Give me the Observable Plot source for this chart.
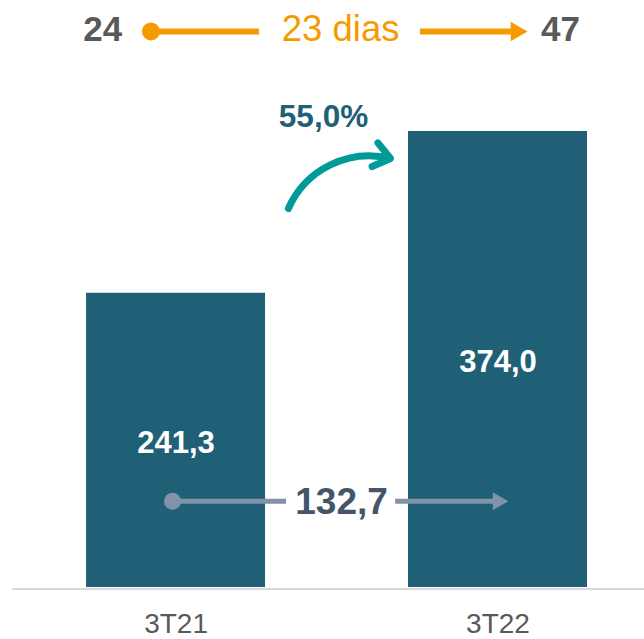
<!DOCTYPE html>
<html><head><meta charset="utf-8">
<script src="https://cdn.jsdelivr.net/npm/d3@7"></script>
<script src="https://cdn.jsdelivr.net/npm/@observablehq/plot@0.6"></script>
<style>body{margin:0;background:#fff} svg{display:block}</style>
</head><body><div id="chart"></div>
<script>
// ---- data ----
const categories = ["3T21", "3T22"];
const values = [241.3, 374.0];
const valueLabels = ["241,3", "374,0"];
const growthLabel = "55,0%";
const differenceLabel = "132,7";
const daysFrom = "24";
const daysTo = "47";
const daysLabel = "23 dias";

const bars = categories.map((c, i) => ({i, category: c, value: values[i], label: valueLabels[i]}));

// ---- annotation layout (x in bar-index units, y in value units) ----
const ann = {
  topTextY: 457.6, topLineY: 456,
  daysFromX: -0.228, daysToX: 1.194, daysLabelX: 0.511,
  daysDotX: -0.078, daysLine1: [-0.078, 0.259], daysLine2: [0.759, 1.05], daysHeadX: 1.0568,
  growthX: 0.458, growthY: 386.3,
  curve: {x1: 0.349, y1: 310.8, x2: 0.666, y2: 351.8},
  diffY: 70.8, diffLabelY: 70.3, diffLabelX: 0.514,
  diffDotX: -0.011, diffLine1: [-0.011, 0.343], diffLine2: [0.682, 0.995], diffHeadX: 1.0
};

const font = '"Liberation Sans", Arial, Helvetica, sans-serif';
const barColor = "#1f6076";
const orange = "#f59b00";
const grayText = "#595959";
const arrowGray = "#8192a9";
const diffColor = "#44546a";
const teal = "#009b98";
const halfBar = 0.278;

const topTexts = [
  {x: ann.daysFromX, text: daysFrom},
  {x: ann.daysToX, text: daysTo}
];

const chart = Plot.plot({
  width: 644, height: 639,
  marginLeft: 12, marginRight: 0, marginTop: 0, marginBottom: 52,
  style: {fontFamily: font, background: "#fff", overflow: "visible"},
  x: {type: "linear", domain: [-0.508, 1.455], axis: null},
  y: {domain: [0, 481.4], axis: null},
  marks: [
    Plot.rectY(bars, {x1: d => d.i - halfBar, x2: d => d.i + halfBar, y1: () => 0, y2: "value", fill: barColor}),
    Plot.ruleY([0], {stroke: "#d9d9d9", strokeWidth: 2, dy: 1.5}),
    Plot.axisX({ticks: [0, 1], tickFormat: i => categories[i], tickSize: 0, tickPadding: 26, fontSize: 28, color: grayText, fontFamily: font}),
    Plot.text(bars, {x: "i", y: d => d.value / 2, text: "label", fill: "white", fontWeight: "bold", fontSize: 31, dy: 2.5, fontFamily: font}),

    // top: days
    Plot.text(topTexts, {x: "x", y: () => ann.topTextY, text: "text", fill: grayText, fontWeight: "bold", fontSize: 35, fontFamily: font}),
    Plot.text([daysLabel], {x: () => ann.daysLabelX, y: () => ann.topTextY, text: d => d, fill: orange, fontSize: 36.5, fontFamily: font}),
    Plot.ruleY([ann.daysLine1, ann.daysLine2], {y: () => ann.topLineY, x1: d => d[0], x2: d => d[1], stroke: orange, strokeWidth: 6}),
    Plot.dot([ann.daysDotX], {x: d => d, y: () => ann.topLineY, r: 9, fill: orange}),
    Plot.dot([ann.daysHeadX], {x: d => d, y: () => ann.topLineY, r: 7.2, symbol: "triangle", rotate: 90, fill: orange}),

    // growth
    Plot.text([growthLabel], {x: () => ann.growthX, y: () => ann.growthY, text: d => d, fill: barColor, fontWeight: "bold", fontSize: 31.5, fontFamily: font}),
    Plot.arrow([ann.curve], {x1: "x1", y1: "y1", x2: "x2", y2: "y2", bend: 40, stroke: teal, strokeWidth: 7, headLength: 4.3, headAngle: 75}),

    // difference
    Plot.ruleY([ann.diffLine1, ann.diffLine2], {y: () => ann.diffY, x1: d => d[0], x2: d => d[1], stroke: arrowGray, strokeWidth: 5}),
    Plot.dot([ann.diffDotX], {x: d => d, y: () => ann.diffY, r: 8.5, fill: arrowGray}),
    Plot.dot([ann.diffHeadX], {x: d => d, y: () => ann.diffY, r: 6.7, symbol: "triangle", rotate: 90, fill: arrowGray}),
    Plot.text([differenceLabel], {x: () => ann.diffLabelX, y: () => ann.diffLabelY, text: d => d, fill: diffColor, fontWeight: "bold", fontSize: 37, fontFamily: font})
  ]
});
document.getElementById("chart").appendChild(chart);
</script>
</body></html>
